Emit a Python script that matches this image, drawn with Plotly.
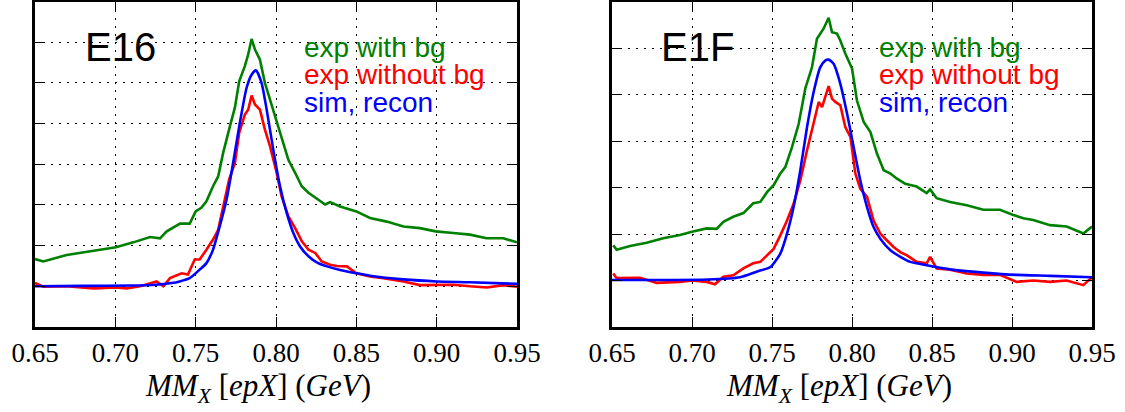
import plotly.graph_objects as go

# ---- E16: missing-mass distributions (arbitrary units, one grid step = 1) ----
e16_green_x = [0.650, 0.6552, 0.6697, 0.6863, 0.7004, 0.7112, 0.7216, 0.7278, 0.7320, 0.7403,
               0.7463, 0.7500, 0.7535, 0.7567, 0.7608, 0.7640, 0.7671, 0.7713, 0.7744, 0.7771,
               0.7806, 0.7827, 0.7848, 0.7869, 0.7900, 0.7931, 0.7963, 0.8004, 0.8035, 0.8077,
               0.8119, 0.8160, 0.8202, 0.8233, 0.8275, 0.8306, 0.8337, 0.8399, 0.8500, 0.8585,
               0.8689, 0.8793, 0.8896, 0.8994, 0.9103, 0.9207, 0.9311, 0.9415, 0.9500]
e16_green_y = [1.67, 1.61, 1.77, 1.88, 1.96, 2.08, 2.21, 2.18, 2.35, 2.54,
               2.54, 2.84, 2.93, 3.09, 3.46, 3.70, 4.28, 4.93, 5.39, 6.04,
               6.41, 6.70, 7.08, 6.82, 6.57, 6.00, 5.59, 5.10, 4.69, 4.11,
               3.79, 3.46, 3.30, 3.21, 3.09, 3.01, 3.07, 2.96, 2.84, 2.68,
               2.59, 2.47, 2.43, 2.35, 2.31, 2.27, 2.18, 2.18, 2.08]

e16_red_x = [0.650, 0.6552, 0.6697, 0.6863, 0.7004, 0.7071, 0.7154, 0.7257, 0.7299, 0.7340,
             0.7413, 0.7452, 0.7494, 0.7525, 0.7567, 0.7608, 0.7640, 0.7671, 0.7708, 0.7744,
             0.7771, 0.7806, 0.7827, 0.7848, 0.7869, 0.7900, 0.7931, 0.7963, 0.8004, 0.8035,
             0.8077, 0.8119, 0.8160, 0.8202, 0.8244, 0.8285, 0.8337, 0.8378, 0.8441, 0.8500,
             0.8585, 0.8668, 0.8793, 0.8896, 0.9000, 0.9103, 0.9207, 0.9311, 0.9415, 0.9500]
e16_red_y = [1.08, 0.99, 1.00, 0.95, 0.97, 0.95, 1.00, 1.12, 1.00, 1.20,
             1.32, 1.29, 1.66, 1.66, 1.90, 2.15, 2.39, 2.97, 3.62, 4.03,
             4.77, 5.22, 5.34, 5.69, 5.47, 5.34, 4.85, 4.44, 3.79, 3.21,
             2.72, 2.43, 2.11, 1.90, 1.82, 1.61, 1.53, 1.50, 1.49, 1.32,
             1.24, 1.20, 1.12, 1.03, 1.03, 1.04, 1.00, 0.97, 1.03, 0.99]

e16_blue_x = [0.650, 0.680, 0.710, 0.725, 0.735, 0.7400, 0.7463, 0.7525, 0.7567, 0.7608,
              0.7650, 0.7692, 0.7733, 0.7775, 0.7817, 0.7848, 0.7875, 0.7910, 0.7942, 0.7983,
              0.8025, 0.8067, 0.8108, 0.8150, 0.8202, 0.8254, 0.8317, 0.8399, 0.8500, 0.8585,
              0.8793, 0.9000, 0.9207, 0.9500]
e16_blue_y = [1.00, 1.01, 1.02, 1.04, 1.08, 1.12, 1.20, 1.41, 1.57, 1.90,
              2.48, 3.13, 4.03, 5.02, 5.88, 6.20, 6.31, 6.00, 5.34, 4.36,
              3.46, 2.80, 2.31, 1.98, 1.74, 1.59, 1.49, 1.40, 1.32, 1.26,
              1.17, 1.12, 1.10, 1.06]

# ---- E1F ----
e1f_green_x = [0.6508, 0.6529, 0.6613, 0.6717, 0.6820, 0.6925, 0.7000, 0.7092, 0.7154, 0.7196,
               0.7258, 0.7321, 0.7383, 0.7427, 0.7469, 0.7510, 0.7552, 0.7583, 0.7625, 0.7667,
               0.7708, 0.7750, 0.7781, 0.7802, 0.7823, 0.7854, 0.7875, 0.7906, 0.7927, 0.7958,
               0.8000, 0.8031, 0.8073, 0.8115, 0.8156, 0.8198, 0.8240, 0.8281, 0.8333, 0.8404,
               0.8467, 0.8488, 0.8529, 0.8613, 0.8717, 0.8821, 0.8925, 0.9008, 0.9071, 0.9133,
               0.9238, 0.9342, 0.9446, 0.9500]
e1f_green_y = [1.76, 1.66, 1.74, 1.81, 1.91, 1.98, 2.05, 2.12, 2.11, 2.26,
               2.37, 2.45, 2.66, 2.69, 2.90, 3.05, 3.30, 3.44, 3.87, 4.37,
               5.13, 5.59, 6.20, 6.31, 6.42, 6.65, 6.34, 6.31, 6.16, 5.88,
               5.56, 4.87, 4.41, 4.19, 3.73, 3.37, 3.30, 3.19, 3.08, 3.02,
               2.88, 2.96, 2.77, 2.69, 2.62, 2.52, 2.52, 2.41, 2.34, 2.30,
               2.19, 2.16, 2.01, 2.16]

e1f_red_x = [0.6508, 0.6529, 0.6675, 0.6779, 0.6925, 0.7000, 0.7092, 0.7144, 0.7196, 0.7258,
             0.7321, 0.7383, 0.7427, 0.7469, 0.7510, 0.7552, 0.7594, 0.7635, 0.7677, 0.7719,
             0.7760, 0.7792, 0.7813, 0.7833, 0.7854, 0.7875, 0.7896, 0.7927, 0.7958, 0.7990,
             0.8021, 0.8052, 0.8094, 0.8135, 0.8177, 0.8219, 0.8260, 0.8302, 0.8344, 0.8404,
             0.8467, 0.8488, 0.8529, 0.8613, 0.8717, 0.8821, 0.8925, 0.9029, 0.9133, 0.9238,
             0.9342, 0.9446, 0.9500]
e1f_red_y = [1.15, 1.05, 1.06, 0.95, 0.97, 1.00, 0.97, 0.92, 1.08, 1.11,
             1.26, 1.37, 1.40, 1.54, 1.68, 1.97, 2.29, 2.65, 3.15, 3.80,
             4.37, 4.84, 4.73, 4.95, 5.18, 4.91, 4.84, 4.77, 4.30, 4.09,
             3.30, 2.97, 2.80, 2.29, 2.01, 1.86, 1.72, 1.61, 1.54, 1.40,
             1.37, 1.51, 1.26, 1.23, 1.15, 1.12, 1.12, 0.97, 1.00, 0.97,
             1.00, 0.90, 1.07]

e1f_blue_x = [0.650, 0.680, 0.710, 0.7300, 0.7404, 0.7490, 0.7552, 0.7594, 0.7635, 0.7677,
              0.7719, 0.7760, 0.7802, 0.7833, 0.7854, 0.7885, 0.7927, 0.7969, 0.8010, 0.8052,
              0.8094, 0.8135, 0.8177, 0.8240, 0.8302, 0.8365, 0.8404, 0.8508, 0.8613, 0.8821,
              0.9029, 0.9238, 0.9500]
e1f_blue_y = [1.01, 1.01, 1.02, 1.07, 1.19, 1.29, 1.58, 2.01, 2.58, 3.37,
              4.30, 5.05, 5.59, 5.73, 5.75, 5.66, 5.23, 4.59, 3.87, 3.15,
              2.58, 2.15, 1.90, 1.65, 1.51, 1.40, 1.37, 1.30, 1.24, 1.17,
              1.12, 1.10, 1.07]

x_ticks = [0.65, 0.70, 0.75, 0.80, 0.85, 0.90, 0.95]
x_tick_text = ["0.65", "0.70", "0.75", "0.80", "0.85", "0.90", "0.95"]
panel_names = ["E16", "E1F"]
series_names = ["exp with bg", "exp without bg", "sim, recon"]
series_colors = ["#008000", "#ff0000", "#0000ff"]

W, H = 1125, 412

panels = [
    dict(name=panel_names[0], xa="x", ya="y",
         data=[(e16_green_x, e16_green_y), (e16_red_x, e16_red_y), (e16_blue_x, e16_blue_y)]),
    dict(name=panel_names[1], xa="x2", ya="y2",
         data=[(e1f_green_x, e1f_green_y), (e1f_red_x, e1f_red_y), (e1f_blue_x, e1f_blue_y)]),
]

fig = go.Figure()
for p in panels:
    for (xs, ys), nm, col in zip(p["data"], series_names, series_colors):
        fig.add_trace(go.Scatter(
            x=xs, y=ys, mode="lines", name=nm, xaxis=p["xa"], yaxis=p["ya"],
            line=dict(color=col, width=2.6, shape="spline" if nm == "sim, recon" else "linear",
                      smoothing=0.6),
            showlegend=False, hoverinfo="skip"))

serif = "Liberation Serif, Times New Roman, serif"
sans = "Liberation Sans, Arial, sans-serif"

common_x = dict(
    range=[0.65, 0.95], tickvals=x_ticks, ticktext=x_tick_text,
    ticks="inside", ticklen=10, tickwidth=1.4, tickcolor="black",
    showline=True, linewidth=2.6, linecolor="black", mirror="allticks",
    showgrid=True, gridcolor="black", gridwidth=1.4, griddash="2px,6px",
    tickfont=dict(family=serif, size=27, color="black"),
    zeroline=False, automargin=False, fixedrange=True,
)
common_y = dict(
    ticks="inside", ticklen=10, tickwidth=1.4, tickcolor="black",
    showline=True, linewidth=2.6, linecolor="black", mirror="allticks",
    showgrid=True, gridcolor="black", gridwidth=1.4, griddash="2px,6px",
    showticklabels=False, zeroline=False, automargin=False, fixedrange=True,
    dtick=1, tick0=0,
)

ydom = [1 - 327 / H, 1 - 1.5 / H]
fig.update_layout(
    width=W, height=H,
    margin=dict(l=0, r=0, t=0, b=0),
    paper_bgcolor="white", plot_bgcolor="white",
    xaxis=dict(common_x, domain=[35 / W, 517 / W], anchor="y"),
    yaxis=dict(common_y, domain=ydom, range=[0, 8], anchor="x"),
    xaxis2=dict(common_x, domain=[612 / W, 1092 / W], anchor="y2"),
    yaxis2=dict(common_y, domain=ydom, range=[0, 7], anchor="x2"),
)

def px(xp, yp):
    return xp / W, 1 - yp / H

annots = []
# panel titles
for name, cx in zip(panel_names, [120, 697]):
    x, y = px(cx, 47)
    annots.append(dict(x=x, y=y, xref="paper", yref="paper", text=name, showarrow=False,
                       xanchor="center", yanchor="middle",
                       font=dict(family=sans, size=40, color="black")))
# coloured series labels
for left in [302, 877]:
    for i, (nm, col) in enumerate(zip(series_names, series_colors)):
        x, y = px(left, 47 + 27.5 * i)
        annots.append(dict(x=x, y=y, xref="paper", yref="paper", text=nm, showarrow=False,
                           xanchor="left", yanchor="middle",
                           font=dict(family=sans, size=28, color=col)))
# axis titles
for cx in [258, 839]:
    x, y = px(cx, 388)
    annots.append(dict(x=x, y=y, xref="paper", yref="paper", showarrow=False,
                       xanchor="center", yanchor="middle",
                       text="<i>MM</i><sub><i>X</i></sub> [<i>epX</i>] (<i>GeV</i>)",
                       font=dict(family=serif, size=31, color="black")))
fig.update_layout(annotations=annots)

fig.write_html("out.html")
